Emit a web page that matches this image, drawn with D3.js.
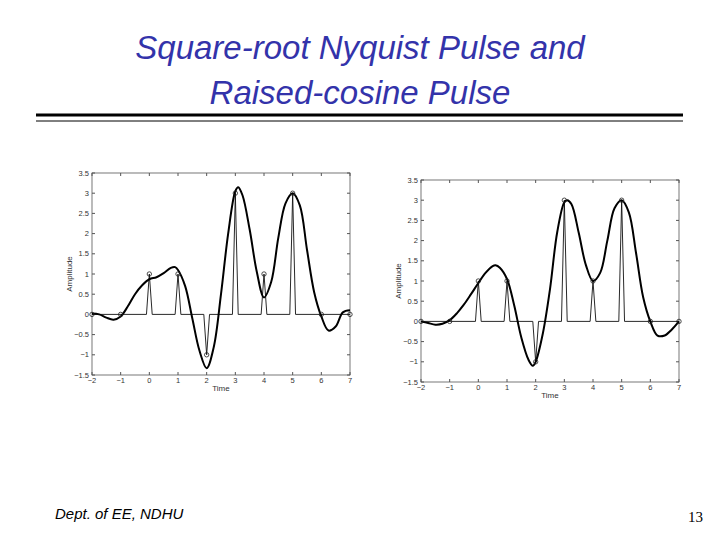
<!DOCTYPE html>
<html><head><meta charset="utf-8">
<script src="https://cdn.jsdelivr.net/npm/d3@7"></script>
<style>body{margin:0;background:#fff}</style>
</head><body>
<svg id="slide" width="720" height="540"></svg>
<script>
// symbol sequence, one per integer time
var symT = [-2, -1, 0, 1, 2, 3, 4, 5, 6, 7];
var symV = [0, 0, 1, 1, -1, 3, 1, 3, 0, 0];

// smooth curve of the square-root Nyquist pulse train
var sqrtT = [-2,-1.75,-1.5,-1.25,-1,-0.75,-0.5,-0.25,0,0.25,0.5,0.75,0.9,1,1.25,1.5,1.75,2,2.25,2.5,2.75,3,3.1,3.25,3.5,3.75,4,4.25,4.5,4.75,5,5.25,5.5,5.75,6,6.25,6.5,6.75,7];
var sqrtV = [0.02,0.0,-0.08,-0.13,-0.05,0.2,0.5,0.72,0.87,0.92,1.02,1.15,1.17,1.1,0.7,-0.1,-0.9,-1.33,-0.8,0.5,2.0,3.05,3.15,2.95,2.1,1.05,0.42,0.8,1.9,2.75,3.0,2.7,1.6,0.55,-0.05,-0.4,-0.3,0.05,0.1];

// smooth curve of the raised-cosine pulse train
var rcT = [-2,-1.75,-1.5,-1.25,-1,-0.75,-0.5,-0.25,0,0.25,0.5,0.6,0.75,1,1.25,1.5,1.75,1.9,2,2.25,2.5,2.75,3,3.1,3.25,3.5,3.75,4,4.25,4.5,4.75,5,5.25,5.5,5.75,6,6.25,6.5,6.75,7];
var rcV = [0,-0.04,-0.08,-0.06,0.03,0.2,0.42,0.68,0.95,1.2,1.37,1.39,1.33,1.05,0.4,-0.4,-0.95,-1.1,-1.0,-0.3,0.8,2.2,2.95,3.0,2.9,2.2,1.4,1.0,1.2,2.0,2.8,3.0,2.7,1.7,0.6,0.0,-0.35,-0.35,-0.2,0];

var xTicks = [-2, -1, 0, 1, 2, 3, 4, 5, 6, 7];
var yTicks = [-1.5, -1, -0.5, 0, 0.5, 1, 1.5, 2, 2.5, 3, 3.5];

var sans = 'Liberation Sans, Arial, sans-serif';
var svg = d3.select('#slide');

// title
svg.append('text').attr('x', 360).attr('y', 59).attr('text-anchor', 'middle')
    .attr('font-family', sans).attr('font-size', 33)
    .attr('font-style', 'italic').attr('fill', '#3333aa').text('Square-root Nyquist Pulse and');
svg.append('text').attr('x', 360).attr('y', 104).attr('text-anchor', 'middle')
    .attr('font-family', sans).attr('font-size', 33)
    .attr('font-style', 'italic').attr('fill', '#3333aa').text('Raised-cosine Pulse');

// double rule under the title
svg.append('line').attr('x1', 36).attr('x2', 683).attr('y1', 115).attr('y2', 115)
    .attr('stroke', '#000').attr('stroke-width', 3);
svg.append('line').attr('x1', 36).attr('x2', 683).attr('y1', 121).attr('y2', 121)
    .attr('stroke', '#000').attr('stroke-width', 1);

// footer
svg.append('text').attr('x', 55).attr('y', 519).attr('font-family', sans)
    .attr('font-size', 15).attr('font-style', 'italic').text('Dept. of EE, NDHU');
svg.append('text').attr('x', 703).attr('y', 522).attr('text-anchor', 'end')
    .attr('font-family', 'Liberation Serif, Times New Roman, serif').attr('font-size', 15).text('13');

function drawPanel(x0, x1, y0, y1, curveT, curveV){
    var x = d3.scaleLinear().domain([-2, 7]).range([x0, x1]);
    var y = d3.scaleLinear().domain([-1.5, 3.5]).range([y1, y0]);
    var g = svg.append('g');

    g.append('rect').attr('x', x0).attr('y', y0).attr('width', x1 - x0).attr('height', y1 - y0)
        .attr('fill', 'none').attr('stroke', '#555').attr('stroke-width', 0.8);

    // inward ticks on all four sides
    xTicks.forEach(function(t){
        g.append('line').attr('x1', x(t)).attr('x2', x(t)).attr('y1', y1).attr('y2', y1 - 3).attr('stroke', '#555');
        g.append('line').attr('x1', x(t)).attr('x2', x(t)).attr('y1', y0).attr('y2', y0 + 3).attr('stroke', '#555');
        g.append('text').attr('x', x(t)).attr('y', y1 + 8).attr('text-anchor', 'middle')
            .attr('font-family', sans).attr('font-size', 7.5).attr('fill', '#333')
            .text(t < 0 ? '\u2212' + (-t) : t);
    });
    yTicks.forEach(function(t){
        g.append('line').attr('x1', x0).attr('x2', x0 + 3).attr('y1', y(t)).attr('y2', y(t)).attr('stroke', '#555');
        g.append('line').attr('x1', x1).attr('x2', x1 - 3).attr('y1', y(t)).attr('y2', y(t)).attr('stroke', '#555');
        g.append('text').attr('x', x0 - 3).attr('y', y(t) + 2.5).attr('text-anchor', 'end')
            .attr('font-family', sans).attr('font-size', 7.5).attr('fill', '#333')
            .text(t < 0 ? '\u2212' + (-t) : t);
    });
    g.append('text').attr('x', (x0 + x1) / 2).attr('y', y1 + 16).attr('text-anchor', 'middle')
        .attr('font-family', sans).attr('font-size', 8).attr('fill', '#333').text('Time');
    g.append('text').attr('transform', 'translate(' + (x0 - 20) + ',' + y(1) + ') rotate(-90)')
        .attr('text-anchor', 'middle').attr('font-family', sans).attr('font-size', 8)
        .attr('fill', '#333').text('Amplitude');

    // impulse train: narrow triangles at each nonzero symbol
    var imp = [[-2, 0]];
    symT.forEach(function(t, i){
        if (symV[i] !== 0){
            imp.push([t - 0.1, 0], [t, symV[i]], [t + 0.1, 0]);
        }
    });
    imp.push([7, 0]);
    g.append('path').datum(imp).attr('fill', 'none').attr('stroke', '#111').attr('stroke-width', 0.9)
        .attr('d', d3.line().x(function(d){ return x(d[0]); }).y(function(d){ return y(d[1]); }));

    // smooth pulse train
    var pts = curveT.map(function(t, i){ return [t, curveV[i]]; });
    g.append('path').datum(pts).attr('fill', 'none').attr('stroke', '#000').attr('stroke-width', 2)
        .attr('d', d3.line().curve(d3.curveCatmullRom.alpha(0.5))
            .x(function(d){ return x(d[0]); }).y(function(d){ return y(d[1]); }));

    // symbol markers
    g.selectAll('circle.sym').data(symT).enter().append('circle')
        .attr('cx', function(d){ return x(d); })
        .attr('cy', function(d, i){ return y(symV[i]); })
        .attr('r', 2.2).attr('fill', 'none').attr('stroke', '#222').attr('stroke-width', 0.8);
}

drawPanel(92, 350, 173, 375, sqrtT, sqrtV);
drawPanel(421, 679, 180, 382, rcT, rcV);
</script>
</body></html>
